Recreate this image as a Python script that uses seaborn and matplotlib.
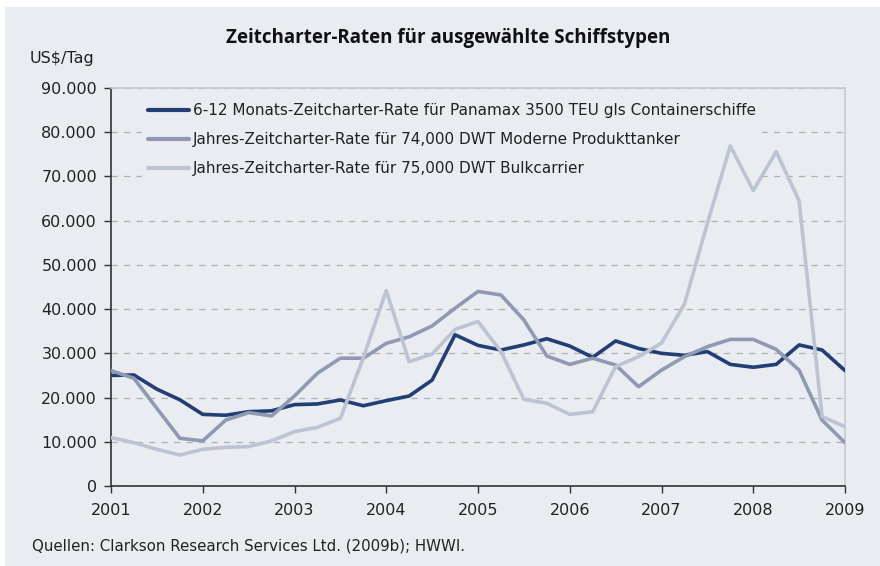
import matplotlib
matplotlib.use("Agg")
import matplotlib.pyplot as plt
import matplotlib.patches as mpatches
import seaborn as sns
import pandas as pd
import numpy as np

years = [2001 + q * 0.25 for q in range(33)]

container = [25000, 25100, 21900, 19500, 16200, 16000, 16800, 17000,
             18400, 18550, 19450, 18150, 19300, 20350, 23950, 34200,
             31800, 30750, 31900, 33300, 31650, 29100, 32800, 31100,
             30000, 29550, 30400, 27500, 26850, 27500, 31900, 30750,
             26100]
tanker = [26100, 24350, 17550, 10800, 10200, 14900, 16600, 15850,
          20350, 25500, 28900, 28900, 32250, 33750, 36200, 40200,
          44000, 43200, 37550, 29400, 27500, 28900, 27350, 22450,
          26200, 29250, 31500, 33150, 33150, 30900, 26200, 14900,
          9800]
bulk = [10950, 9800, 8300, 7000, 8300, 8750, 8900, 10200,
        12300, 13250, 15300, 29000, 44200, 28100, 29850, 35400,
        37200, 30400, 19600, 18700, 16200, 16800, 27000, 29250,
        32300, 41150, 59400, 76900, 66800, 75600, 64500, 15700,
        13400]

series_names = [
    "6-12 Monats-Zeitcharter-Rate für Panamax 3500 TEU gls Containerschiffe",
    "Jahres-Zeitcharter-Rate für 74,000 DWT Moderne Produkttanker",
    "Jahres-Zeitcharter-Rate für 75,000 DWT Bulkcarrier",
]
x_ticks = list(range(2001, 2010))
y_ticks = list(range(0, 90001, 10000))
y_tick_labels = ["0"] + [f"{v // 1000}.000" for v in y_ticks[1:]]

title = "Zeitcharter-Raten für ausgewählte Schiffstypen"
y_unit = "US$/Tag"
source = "Quellen: Clarkson Research Services Ltd. (2009b); HWWI."

df = pd.DataFrame({
    "Jahr": years * 3,
    "Wert": container + tanker + bulk,
    "Serie": [series_names[0]] * 33 + [series_names[1]] * 33 + [series_names[2]] * 33,
})

bg = "#e9ecf1"
colors = ["#233e72", "#8f9ab2", "#bcc4d3"]
txt = "#222222"

sns.set_theme(style="white")
plt.rcParams["font.family"] = ["DejaVu Sans"]

fig = plt.figure(figsize=(8.8, 5.66), dpi=100, facecolor="white")
fig.patches.append(mpatches.Rectangle((5 / 880, 0), 1 - 5 / 880, 1 - 7 / 566,
                                      transform=fig.transFigure, facecolor=bg,
                                      edgecolor="none", zorder=-10))
ax = fig.add_axes([111 / 880, (566 - 486) / 566, (845 - 111) / 880, (486 - 88) / 566])
ax.set_facecolor(bg)

sns.lineplot(data=df, x="Jahr", y="Wert", hue="Serie", hue_order=series_names,
             palette=colors, linewidth=2.6, ax=ax, legend=True)
for ln in ax.get_lines():
    ln.set_zorder(4)

ax.set_xlim(2001, 2009)
ax.set_ylim(0, 90000)
ax.set_xticks(x_ticks)
ax.set_xticklabels([str(t) for t in x_ticks], fontsize=11.5, color=txt)
ax.set_yticks(y_ticks)
ax.set_yticklabels(y_tick_labels, fontsize=11.5, color=txt)
ax.set_xlabel("")
ax.set_ylabel("")
ax.tick_params(axis="both", direction="out", length=5, width=1, color="#333333",
               bottom=True, left=True, pad=5)
ax.tick_params(axis="x", pad=7)

ax.yaxis.grid(True, linestyle=(0, (5, 5)), color="#b0b0b0", linewidth=0.9)
ax.xaxis.grid(False)
ax.set_axisbelow(True)

for s in ["left", "bottom"]:
    ax.spines[s].set_color("#333333")
    ax.spines[s].set_linewidth(1.2)
for s in ["top", "right"]:
    ax.spines[s].set_color("#c6cad1")
    ax.spines[s].set_linewidth(1.2)
    ax.spines[s].set_visible(True)

leg = ax.legend(loc="upper left", bbox_to_anchor=(0.042, 0.978), frameon=True,
                facecolor=bg, edgecolor="none", framealpha=1.0, fontsize=11,
                handlelength=2.7, handletextpad=0.25, labelspacing=0.92,
                borderaxespad=0.0, borderpad=0.4)
leg.set_zorder(2)
for line in leg.get_lines():
    line.set_linewidth(3)
for t in leg.get_texts():
    t.set_color(txt)

fig.text(448 / 880, 1 - 38 / 566, title, ha="center", va="center",
         fontsize=13.5, fontweight="bold", color="#111111",
         family=["Open Sans", "DejaVu Sans"])
fig.text(30 / 880, 1 - 58 / 566, y_unit, ha="left", va="center",
         fontsize=11.5, color=txt)
fig.text(32 / 880, 1 - 546 / 566, source, ha="left", va="center",
         fontsize=10.8, color=txt)

fig.savefig("out.png", dpi=100, facecolor="white")
